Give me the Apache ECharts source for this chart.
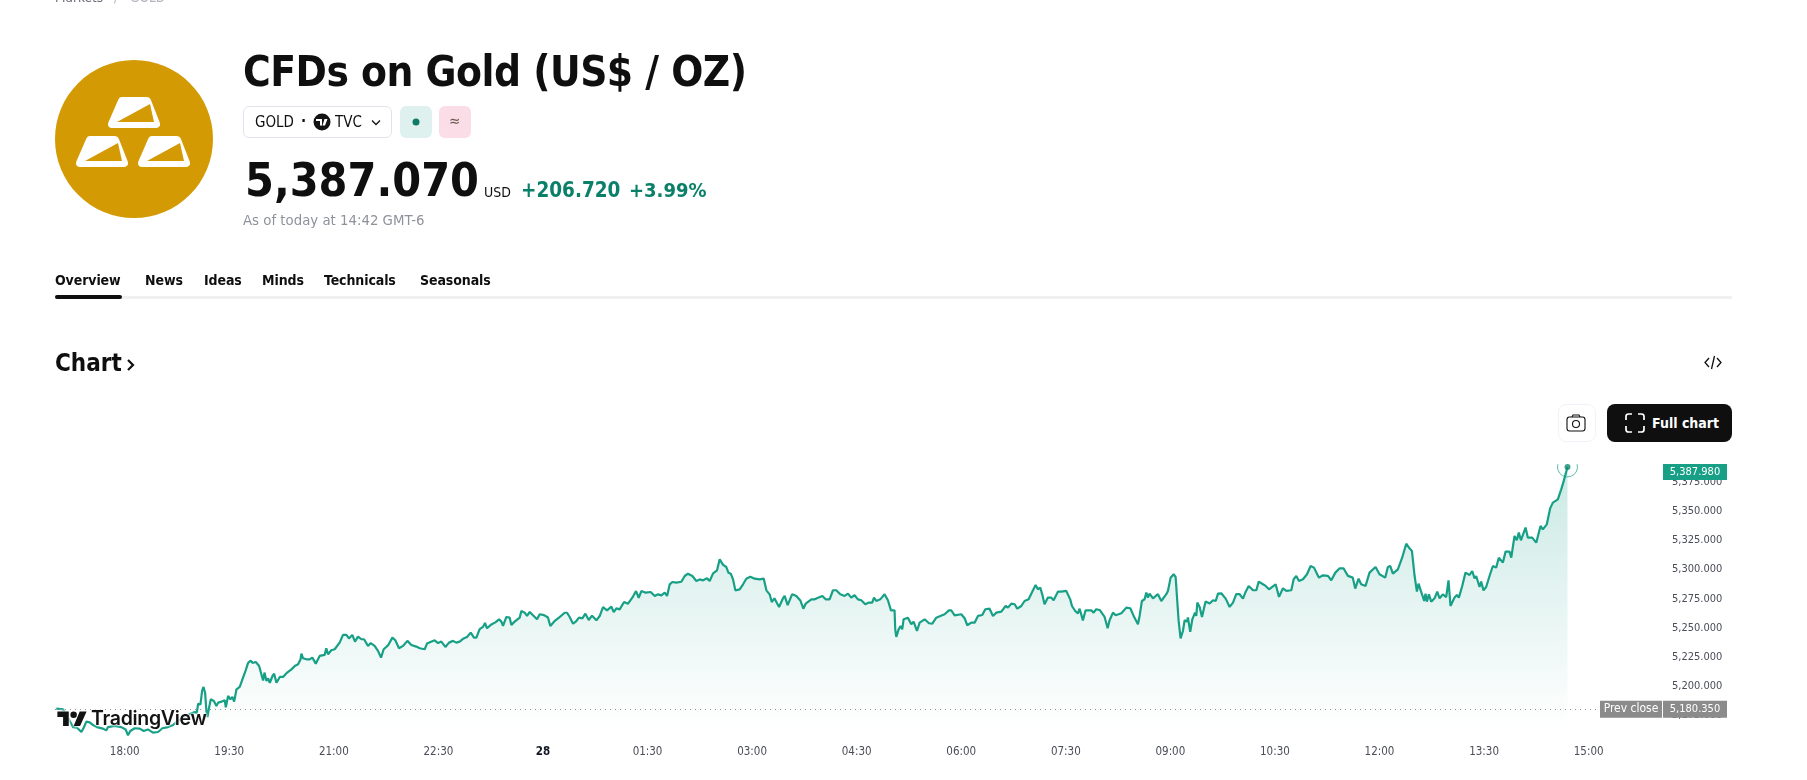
<!DOCTYPE html>
<html>
<head>
<meta charset="utf-8">
<title>CFDs on Gold</title>
<script src="https://cdn.jsdelivr.net/npm/echarts@6/dist/echarts.min.js"></script>
<style>
  html, body { margin: 0; padding: 0; background: #fff; overflow: hidden; }
  body { width: 1807px; height: 780px; position: relative; font-family: "DejaVu Sans Condensed", "DejaVu Sans", sans-serif; color: #0f0f0f; }
  #chart { position: absolute; left: 0; top: 0; width: 1807px; height: 780px; }
  .t { position: absolute; white-space: nowrap; line-height: 1; }
  .box { position: absolute; box-sizing: border-box; }
  svg { position: absolute; overflow: visible; }
  .tab { font-size: 14px; font-weight: bold; top: 273px; letter-spacing: -0.100px; }
  .bar { fill: #fff; stroke: #fff; stroke-width: 8; stroke-linejoin: round; }
  .cut { fill: #d39a03; }
</style>
</head>
<body>
<div id="chart"></div>

<!-- page header -->
<span class="t" style="left:55px;top:-9px;font-size:13.500px;color:#6a6d78">Markets</span>
<span class="t" style="left:114px;top:-9px;font-size:13.500px;color:#b2b5be">/</span>
<span class="t" style="left:130px;top:-9px;font-size:13.500px;color:#b2b5be">GOLD</span>

<svg style="left:55px;top:60px" width="158" height="158" viewBox="0 0 158 158">
  <circle cx="79" cy="79" r="79" fill="#d39a03"/>
  <g>
    <path class="bar" d="M67 41H92L101 64H57Z"/>
    <path class="cut" d="M62 62L95 44l4 18z"/>
  </g>
  <g transform="translate(-32,39)">
    <path class="bar" d="M67 41H92L101 64H57Z"/>
    <path class="cut" d="M62 62L95 44l4 18z"/>
  </g>
  <g transform="translate(30,39)">
    <path class="bar" d="M67 41H92L101 64H57Z"/>
    <path class="cut" d="M62 62L95 44l4 18z"/>
  </g>
</svg>

<span class="t" style="left:243px;top:51px;font-size:42px;font-weight:bold;letter-spacing:-0.500px">CFDs on Gold (US$ / OZ)</span>

<div class="box" style="left:243px;top:106px;width:149px;height:32px;border:1px solid #e0e3eb;border-radius:6px"></div>
<span class="t" style="left:255px;top:115px;font-size:15px">GOLD</span>
<span class="t" style="left:301px;top:114px;font-size:15px;font-weight:bold">·</span>
<svg style="left:313px;top:113px" width="18" height="18" viewBox="0 0 18 18">
  <circle cx="9" cy="9" r="8.500" fill="#131313"/>
  <path d="M3 6h6v6.500H7V8H3zM11.500 6h3l-2.500 6.500H9.500z" fill="#fff"/>
</svg>
<span class="t" style="left:335px;top:115px;font-size:15px">TVC</span>
<svg style="left:371px;top:119px" width="10" height="7" viewBox="0 0 10 7">
  <path d="M1 1.500l4 4 4-4" fill="none" stroke="#131313" stroke-width="1.300"/>
</svg>
<div class="box" style="left:400px;top:106px;width:32px;height:32px;background:#dff1ee;border-radius:6px"></div>
<svg style="left:400px;top:106px" width="32" height="32"><circle cx="16" cy="16" r="3.500" fill="#0f7a65"/></svg>
<div class="box" style="left:439px;top:106px;width:32px;height:32px;background:#fbdde8;border-radius:6px"></div>
<span class="t" style="left:449px;top:114px;font-size:15px;color:#6b5a50">≈</span>

<span class="t" style="left:245px;top:157px;font-size:46.200px;font-weight:bold">5,387.070</span>
<span class="t" style="left:484px;top:185px;font-size:14px">USD</span>
<span class="t" style="left:521px;top:180px;font-size:20.500px;font-weight:bold;color:#0b8069">+206.720</span>
<span class="t" style="left:629px;top:180px;font-size:20px;font-weight:bold;color:#0b8069">+3.99%</span>
<span class="t" style="left:243px;top:213px;font-size:14.800px;color:#8f929b">As of today at 14:42 GMT-6</span>

<span class="t tab" style="left:55px">Overview</span>
<span class="t tab" style="left:145px">News</span>
<span class="t tab" style="left:204px">Ideas</span>
<span class="t tab" style="left:262px">Minds</span>
<span class="t tab" style="left:324px">Technicals</span>
<span class="t tab" style="left:420px">Seasonals</span>
<div class="box" style="left:55px;top:296px;width:1677px;height:3px;background:#f0f0f0"></div>
<div class="box" style="left:55px;top:295px;width:67px;height:4px;background:#0f0f0f;border-radius:2px"></div>

<span class="t" style="left:55px;top:351px;font-size:24px;font-weight:bold">Chart</span>
<svg style="left:126px;top:358px" width="10" height="14" viewBox="0 0 10 14">
  <path d="M2 2l5 5-5 5" fill="none" stroke="#0f0f0f" stroke-width="2.200"/>
</svg>
<svg style="left:1704px;top:355px" width="18" height="15" viewBox="0 0 18 15">
  <path d="M5 3L1 7.500 5 12M13 3l4 4.500-4 4.500M10.500 1L7.500 14" fill="none" stroke="#0f0f0f" stroke-width="1.300"/>
</svg>

<div class="box" style="left:1558px;top:404px;width:38px;height:38px;border:1px solid #f0f3fa;border-radius:8px"></div>
<svg style="left:1566px;top:413px" width="20" height="20" viewBox="0 0 20 20">
  <rect x="1" y="4" width="18" height="14" rx="2.500" fill="none" stroke="#0f0f0f" stroke-width="1.100"/>
  <path d="M6 4l1-2h6l1 2" fill="none" stroke="#0f0f0f" stroke-width="1.100"/>
  <circle cx="10" cy="11" r="3.500" fill="none" stroke="#0f0f0f" stroke-width="1.100"/>
</svg>
<div class="box" style="left:1607px;top:404px;width:125px;height:38px;background:#0f0f0f;border-radius:8px"></div>
<svg style="left:1625px;top:413px" width="20" height="20" viewBox="0 0 20 20">
  <path d="M1 7V3.500Q1 1 3.500 1H7M13 1h3.500Q19 1 19 3.500V7M19 13v3.500q0 2.500-2.500 2.500H13M7 19H3.500Q1 19 1 16.500V13" fill="none" stroke="#fff" stroke-width="1.700"/>
</svg>
<span class="t" style="left:1652px;top:416px;font-size:14px;font-weight:bold;color:#fff">Full chart</span>

<!-- TradingView mark sits on top of the line -->
<svg style="left:57px;top:711px;filter:drop-shadow(0 0 1px #fff) drop-shadow(0 0 1px #fff)" width="30" height="15" viewBox="0 6.500 36 18.500">
  <path d="M14 25H7V14H0V7h14v18zM28 25h-8l7.500-18H36l-8 18z" fill="#131313"/>
  <circle cx="20" cy="11" r="4" fill="#131313"/>
</svg>
<span class="t" style="left:91px;top:709px;font-family:Inter,sans-serif;font-size:19.500px;font-weight:600;color:#131313;letter-spacing:-0.300px;text-shadow:0 0 2px #fff,0 0 2px #fff,0 0 3px #fff">TradingView</span>

<script>
// tick labels
var xTickMinutes = [60, 150, 240, 330, 420, 510, 600, 690, 780, 870, 960, 1050, 1140, 1230, 1320];
var xTickLabels = ["18:00", "19:30", "21:00", "22:30", "28", "01:30", "03:00", "04:30", "06:00", "07:30", "09:00", "10:30", "12:00", "13:30", "15:00"];
var yTickValues = [5175, 5200, 5225, 5250, 5275, 5300, 5325, 5350, 5375];

var prevClose = 5180.35;
var lastPrice = 5387.98;

// [minutes after 17:00, price]
var pricePoints = [
  [1.1,5180.8],[6.9,5180.2],[11.2,5173],[15.5,5165],[19,5164.5],[22.7,5160.8],[24.7,5164.5],[27,5169.7],[29.8,5169],[32.7,5166.8],
  [36.1,5165],[41.3,5163.7],[44.2,5162.2],[45.6,5165],[51.4,5166],[57,5165],[60.8,5163],[62.8,5158],[64.8,5161.7],[68.6,5164],
  [72.9,5163.7],[76.3,5161.7],[80,5163],[84.3,5160.3],[88.7,5160.8],[92.4,5164],[97.3,5165],[101.6,5166.8],[105,5169.7],[110.2,5173],
  [115.9,5176],[120.2,5178],[122,5177],[123.2,5185],[125.2,5184.5],[126.6,5196],[127.8,5199.4],[129.2,5194.5],[130.3,5178.8],[131.2,5173.7],
  [132.6,5181.7],[134.1,5188.8],[136.7,5187.4],[139,5183],[140.4,5186],[143.3,5186.8],[146.1,5188],[147,5182],[149,5191.7],[151,5188.8],
  [152.7,5190.8],[154.2,5186.8],[156.2,5197.4],[159,5199.4],[161.3,5206],[163.9,5213],[166.2,5220],[168.5,5222],[170,5220],[172.8,5220.8],
  [175.7,5217.4],[178,5208.8],[179.1,5205],[180.3,5211.7],[182,5204.5],[183.4,5206.8],[184.9,5203],[187.2,5208.8],[188.6,5210.8],[190.6,5203],
  [193.5,5208],[196.3,5208],[199.8,5211.7],[203.5,5214.5],[206.4,5217.4],[209.2,5218.8],[211.3,5223],[212.1,5228],[213.5,5224],[217,5223],
  [219.2,5223],[221.5,5224.6],[224.4,5219.4],[227.8,5226],[232.1,5226.9],[233.5,5232.6],[235,5227.4],[237.8,5230.9],[240.7,5231.7],[242.2,5233],
  [245,5237.4],[247.9,5244],[250.8,5244],[253,5241],[255.9,5244],[258.2,5238.3],[260.8,5242.6],[263.7,5240.3],[266,5240.3],[269.4,5234.6],
  [271.7,5237],[275.1,5234.6],[278,5230.3],[280.6,5224.6],[282.9,5231.7],[286.6,5235],[290.4,5241.7],[292.9,5239.4],[296.1,5232.6],[299.5,5234.6],
  [303.3,5238.9],[306.7,5235.4],[311,5234],[313.9,5232.6],[318.2,5231.7],[320.2,5236.6],[323.1,5238],[324.8,5237.4],[326.8,5239.4],[329.7,5237],
  [332.5,5238.3],[336,5233.7],[339.1,5237.4],[342.6,5238.9],[345.4,5237.4],[348.3,5238.3],[351.7,5241],[354.6,5242.3],[357.8,5246],[360.6,5241.7],
  [362.7,5241.7],[365.5,5248.9],[368.4,5250.9],[370.1,5254.3],[371.8,5249.7],[375.6,5253],[379.3,5255],[382.2,5257.4],[384.2,5255.4],[385.6,5251.7],
  [388.5,5259.4],[391.3,5258.9],[392.8,5252.6],[395.6,5255.4],[400,5258.9],[401.4,5264.6],[404.3,5263.1],[406.3,5260.3],[408.6,5263.7],[412,5260.3],
  [414.9,5257.4],[417.2,5261.7],[420.9,5261],[424.3,5258.9],[426.3,5251.7],[430.1,5256],[433.8,5258.9],[435,5260.3],[438.7,5263],[440.7,5263],
  [443,5259.4],[445.9,5253.6],[448.7,5255.9],[451,5258.8],[453.9,5258.2],[456.5,5262.2],[459.4,5256.8],[462.2,5260.5],[466,5256.5],[468.8,5260.2],
  [471.7,5267.9],[475.1,5265],[478.9,5268.2],[480.9,5263.6],[483.2,5266.8],[486,5265.9],[489.8,5272.2],[493.2,5270.8],[496.9,5275.9],[500.1,5281.6],
  [502.4,5275.9],[504.7,5281.6],[508.4,5280.2],[512.7,5280.8],[516.2,5277.4],[519,5278.8],[521.9,5277.9],[524.8,5280.2],[526.8,5277.4],[529.1,5287.4],
  [531.4,5289.4],[534.8,5288.8],[539.1,5289.6],[542,5294.5],[544.8,5296.5],[548.6,5294.5],[552,5290.2],[554.9,5291.6],[557.8,5290.8],[561.2,5292.5],
  [563.5,5290.2],[566.4,5296.8],[569.8,5299.4],[572.1,5308.8],[573.5,5309.6],[575,5304],[577.8,5302.2],[579.6,5297.4],[581.6,5296.5],[583.6,5291.6],
  [585.6,5282.2],[589.3,5283],[592.2,5287.4],[595,5292.2],[598.5,5293.9],[602.2,5292.2],[606.5,5291.6],[610,5292.2],[612.3,5282.2],[615.1,5278.8],
  [616.9,5272.2],[619.2,5275.4],[623.2,5267.9],[626.6,5275.4],[628,5277.4],[630.6,5269.6],[634.4,5278.8],[638.1,5277.4],[641.5,5273.6],[644.1,5266.5],
  [646.1,5270.8],[651,5274.5],[653.9,5274.5],[656.7,5275.9],[660.5,5277.4],[663.3,5274.5],[666.7,5274.5],[669.6,5282.3],[672.4,5282.3],[675.9,5278.8],
  [679.6,5277.4],[682.5,5279.4],[685.3,5276],[688.2,5278],[691.1,5274.5],[694,5273.7],[697.4,5270.3],[700.6,5271.7],[703.4,5271.7],[704.9,5276],
  [706.9,5273.1],[710.3,5274.5],[714,5278.8],[716.9,5273.7],[719.5,5265.1],[722.6,5265.1],[723.2,5248.8],[724.1,5242.3],[726.1,5248.8],[727.8,5251.7],
  [729.2,5248.8],[730.4,5257.4],[734.1,5258.8],[737,5253.1],[739,5255.4],[741.9,5247.4],[744.2,5254.5],[748.5,5257.4],[752.2,5254],[755.1,5253.7],
  [758.5,5258.8],[762,5260.3],[765.7,5261.7],[769.4,5265.1],[771.4,5265.1],[774.3,5260.8],[780,5261.7],[782.9,5258.3],[785.2,5252.3],[788.6,5254.5],
  [791.5,5254.5],[794.4,5260.3],[798.1,5261.1],[800.7,5266],[804.4,5266.5],[807.3,5260.3],[810.2,5263.1],[814.5,5264],[818.2,5268.8],[820.2,5267.4],
  [823.1,5270.8],[826,5270.3],[828.2,5266.5],[831.7,5268.8],[834.5,5273.1],[838,5274.5],[840.8,5280.3],[844,5286.8],[846,5283.1],[848,5284.6],
  [849.7,5278.8],[851.7,5270.3],[854.6,5276],[857.5,5276],[859.5,5273.7],[863.2,5281.1],[866.1,5281.1],[870.4,5281.7],[873.8,5274.5],[875.3,5268.8],
  [878.1,5264.5],[880.4,5262.5],[881.9,5266.5],[884.7,5256.5],[887,5265.1],[891.9,5265.1],[893.9,5263.1],[896.2,5266],[899.1,5265.4],[903.4,5259.4],
  [906,5249.7],[907.7,5256.6],[910.6,5263.1],[912.9,5260.9],[917.8,5262.6],[922.1,5267.4],[925.5,5266.9],[928.4,5260.3],[932.1,5253.1],[933.5,5260.3],
  [935.5,5273.1],[937.8,5274.6],[939.3,5280.3],[940.7,5276],[942.1,5279.4],[945,5275.4],[949.3,5278.9],[952.2,5273.1],[953.9,5271.7],[956.5,5278.9],
  [957.9,5281.7],[960.2,5293.1],[962.8,5296],[964.5,5293.7],[966.2,5293.1],[967.1,5256],[968.8,5241.1],[970.8,5247.4],[972.3,5256.6],[974.3,5255.4],
  [975.1,5258.9],[977.1,5246.6],[978.9,5257.4],[981.2,5263.1],[982.3,5260.3],[983.2,5271.7],[985.2,5268],[987.2,5259.4],[990.3,5272.6],[993.8,5270.9],
  [996.7,5273.7],[999,5273.1],[1001,5279.4],[1003.8,5279.7],[1007.6,5275.1],[1011,5268],[1013.9,5271.7],[1016.7,5278.9],[1019.6,5278.9],[1022.5,5275.1],
  [1024.5,5280.3],[1027.4,5286],[1031.1,5282.3],[1034,5282.3],[1036,5289.7],[1039.7,5287.4],[1042,5286],[1044.9,5283.1],[1050.6,5287.4],[1053.5,5276.6],
  [1056.9,5284],[1059.8,5281.7],[1064.1,5282.3],[1066.1,5291.7],[1068.4,5294.6],[1070.7,5290.3],[1074.1,5291.7],[1077.6,5296],[1080.7,5303.1],[1083.6,5301.7],
  [1087.9,5293.1],[1091.3,5295.1],[1095.6,5294.6],[1098.5,5290.9],[1102,5297.4],[1105.7,5301.1],[1109,5301.1],[1112.8,5294.6],[1117,5293.1],[1119.1,5283.7],
  [1122,5292.2],[1124.2,5287.4],[1128,5286],[1131.4,5297.4],[1136.6,5302.2],[1140,5296],[1144.9,5293.1],[1147.2,5302.2],[1149.2,5303.1],[1151.5,5296.5],
  [1155.8,5300.2],[1159.5,5310.2],[1163,5322.2],[1165.8,5318.2],[1167.9,5316],[1170.2,5294.5],[1172.2,5281.1],[1173.6,5288],[1175.6,5281.7],[1177.3,5283.1],
  [1178.5,5273.1],[1179.6,5279.4],[1180.8,5272.5],[1182.5,5278.8],[1184.5,5272.5],[1187.4,5275.4],[1189.7,5281.1],[1191.7,5275.4],[1194.5,5278.8],[1197.4,5276.5],
  [1199.4,5290.8],[1201.1,5268.8],[1204.6,5276],[1206.6,5278.2],[1208.3,5276],[1211.2,5286],[1214,5297.4],[1217.5,5295.4],[1219.8,5298.8],[1221.8,5292.5],
  [1223.2,5294.5],[1226.1,5285.1],[1227.5,5289.7],[1229.5,5282.2],[1231.8,5285.1],[1234.7,5294.5],[1237.6,5303.1],[1240.4,5301.7],[1242.7,5310.2],[1246.2,5306],
  [1248.5,5315.4],[1251.9,5315.4],[1253.4,5310.2],[1256.2,5328.8],[1258.2,5325.1],[1259.9,5331.7],[1261.7,5325.1],[1265.7,5336],[1267.7,5327.4],[1271.4,5327.4],
  [1274.9,5323.1],[1278.6,5337.4],[1280.6,5334.5],[1284,5338.8],[1286.9,5352.5],[1289.2,5357.4],[1293.5,5360.2],[1296.4,5368.8],[1298.4,5375.4],[1300.1,5376],
  [1301.8,5387.98]
];
var lastPoint = pricePoints[pricePoints.length - 1];

var LINE_COLOR = "#17a086";
var AXIS_FONT = "DejaVu Sans Condensed";

function price3(v) {
  return v.toLocaleString("en-US", { minimumFractionDigits: 3, maximumFractionDigits: 3 });
}

var chart = echarts.init(document.getElementById("chart"));

var option = {
  animation: false,
  grid: { left: 55, right: 144, top: 464.6, bottom: 35.4 },
  xAxis: {
    type: "value",
    min: 0,
    max: 1384,
    axisLine: { show: false },
    axisTick: { show: false },
    splitLine: { show: false },
    axisLabel: {
      customValues: xTickMinutes,
      margin: 1,
      color: "#4a4d57",
      fontFamily: AXIS_FONT,
      fontSize: 11.5,
      formatter: function (value) {
        var label = xTickLabels[xTickMinutes.indexOf(value)];
        return label === "28" ? "{day|28}" : label;
      },
      rich: { day: { fontFamily: AXIS_FONT, fontSize: 11.5, fontWeight: "bold", color: "#131722" } },
    },
  },
  yAxis: {
    type: "value",
    position: "right",
    min: 5150,
    max: 5390,
    axisLine: { show: false },
    axisTick: { show: false },
    splitLine: { show: false },
    axisLabel: {
      customValues: yTickValues,
      margin: 9,
      padding: [2, 0, 0, 0],
      color: "#4a4d57",
      fontFamily: AXIS_FONT,
      fontSize: 11,
      formatter: price3,
    },
  },
  series: [
    {
      type: "line",
      data: pricePoints,
      showSymbol: false,
      smooth: false,
      z: 3,
      lineStyle: { color: LINE_COLOR, width: 2.2 },
      areaStyle: {
        color: new echarts.graphic.LinearGradient(0, 0, 0, 1, [
          { offset: 0, color: "rgba(8,153,129,0.3)" },
          { offset: 0.95, color: "rgba(8,153,129,0)" },
        ]),
      },
      markLine: {
        silent: true,
        symbol: "none",
        animation: false,
        precision: 3,
        data: [
          {
            yAxis: prevClose,
            lineStyle: { type: [1, 4], color: "#8a8d96", width: 1 },
            label: {
              position: "end",
              distance: 0,
              offset: [-63, 0],
              formatter: "{name|Prev close}{gap|}{val|" + price3(prevClose) + "}",
              rich: {
                name: { width: 62, height: 17, align: "center", color: "#fff", backgroundColor: "#8b8b8b", fontFamily: AXIS_FONT, fontSize: 12 },
                gap: { width: 1, height: 17 },
                val: { width: 64, height: 17, align: "center", color: "#fff", backgroundColor: "#8b8b8b", fontFamily: AXIS_FONT, fontSize: 11 },
              },
            },
          },
          {
            yAxis: lastPrice,
            lineStyle: { color: "rgba(0,0,0,0)" },
            label: {
              position: "end",
              distance: 0,
              offset: [0, 5],
              formatter: "{val|" + price3(lastPrice) + "}",
              rich: {
                val: { width: 64, height: 16, align: "center", color: "#fff", backgroundColor: LINE_COLOR, fontFamily: AXIS_FONT, fontSize: 11 },
              },
            },
          },
        ],
      },
    },
    {
      // ring round the last price, its top falls outside the plot
      type: "custom",
      data: [lastPoint],
      silent: true,
      z: 4,
      renderItem: function (params, api) {
        var p = api.coord([api.value(0), api.value(1)]);
        return {
          type: "arc",
          shape: { cx: p[0], cy: p[1], r: 10, startAngle: -0.27, endAngle: Math.PI + 0.27, clockwise: true },
          style: { fill: null, stroke: LINE_COLOR, lineWidth: 1, opacity: 0.7 },
        };
      },
    },
    {
      type: "scatter",
      data: [lastPoint],
      symbolSize: 6,
      silent: true,
      z: 5,
      itemStyle: { color: "#0f8a73" },
    },
  ],
};

chart.setOption(option);
window.onresize = chart.resize;
</script>
</body>
</html>
